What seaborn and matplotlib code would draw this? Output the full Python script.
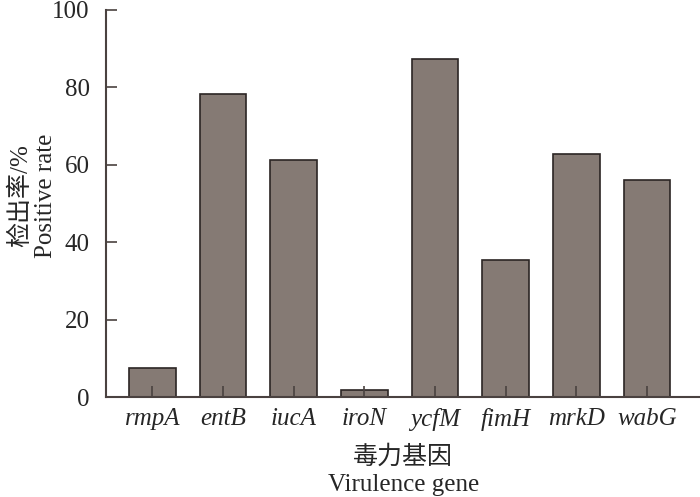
import pandas as pd
import seaborn as sns
import matplotlib.pyplot as plt

genes = ["rmpA", "entB", "iucA", "iroN", "ycfM", "fimH", "mrkD", "wabG"]
rates = [7.6, 78.3, 61.3, 1.8, 87.2, 35.4, 62.8, 56.0]
yticks = [0, 20, 40, 60, 80, 100]

df = pd.DataFrame({"gene": genes, "rate": rates})

sns.set_theme(style="ticks")
plt.rcParams["font.family"] = ["Liberation Serif", "Noto Sans CJK SC"]
plt.rcParams["font.size"] = 18

fig = plt.figure(figsize=(7, 4.97), dpi=100)
ax = fig.add_axes([0.152, 0.201, 0.848, 0.779])

sns.barplot(data=df, x="gene", y="rate", color="#857a74", saturation=1,
            width=0.66, edgecolor="#2b2524", linewidth=1.2, ax=ax)
ax.set_axisbelow(False)

ax.set_xlim(-0.65, 7.75)
ax.set_ylim(0, 100)
ax.set_yticks(yticks)
ax.set_yticklabels([str(t) for t in yticks], fontsize=18)
ax.set_xticks(range(len(genes)))
ax.set_xticklabels(genes, fontsize=18, fontstyle="italic")

ax.tick_params(axis="both", direction="in", length=8, width=1.2, color="#4a4240")
ax.tick_params(axis="y", pad=12)
ax.tick_params(axis="x", pad=8)

for side in ["top", "right"]:
    ax.spines[side].set_visible(False)
for side in ["left", "bottom"]:
    ax.spines[side].set_color("#4a4240")
    ax.spines[side].set_linewidth(1.5)

ax.set_xlabel("毒力基因\nVirulence gene", fontsize=18, linespacing=1.3, labelpad=10)
ax.set_ylabel("检出率/%\nPositive rate", fontsize=18, linespacing=1.2)
ax.yaxis.set_label_coords(-0.083, 0.52)

fig.savefig("out.png", dpi=100)
